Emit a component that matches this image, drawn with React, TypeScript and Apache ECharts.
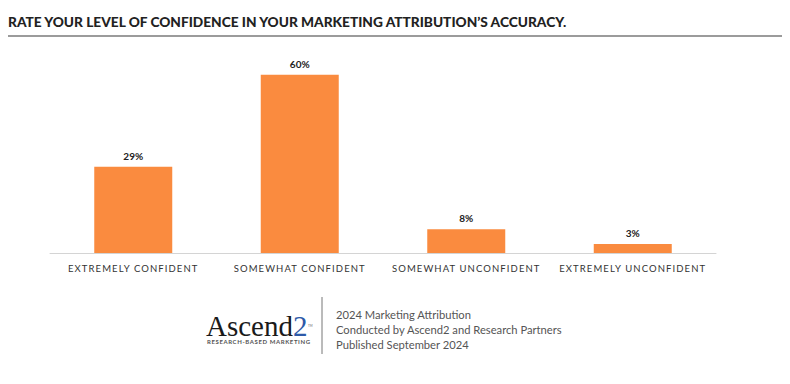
import React, { useEffect, useRef } from "react";
import * as echarts from "echarts";

const categories = [
  "EXTREMELY CONFIDENT",
  "SOMEWHAT CONFIDENT",
  "SOMEWHAT UNCONFIDENT",
  "EXTREMELY UNCONFIDENT",
];
const values = [29, 60, 8, 3];
const titleText = "RATE YOUR LEVEL OF CONFIDENCE IN YOUR MARKETING ATTRIBUTION\u2019S ACCURACY.";
const footerLines = [
  "2024 Marketing Attribution",
  "Conducted by Ascend2 and Research Partners",
  "Published September 2024",
];

export default function App() {
  const ref = useRef<HTMLDivElement>(null);
  useEffect(() => {
    document.body.style.margin = "0";
    const chart = echarts.init(ref.current!, null, { renderer: "svg" });
    chart.setOption({
      animation: false,
      backgroundColor: "#ffffff",
      grid: { left: 50, right: 74, top: 45, bottom: 131 },
      xAxis: {
        type: "category",
        data: categories,
        axisLine: { lineStyle: { color: "#d4d4d4", width: 1 } },
        axisTick: { show: false },
        axisLabel: {
          interval: 0,
          color: "#333333",
          fontFamily: "Lato",
          fontSize: 9.5,
          margin: 10,
        },
      },
      yAxis: {
        type: "value",
        min: 0,
        max: 70,
        show: false,
        splitLine: { show: false },
      },
      series: [
        {
          type: "bar",
          data: values,
          barWidth: 78,
          itemStyle: { color: "#FA8B3F" },
          label: {
            show: true,
            position: "top",
            distance: 6,
            formatter: "{c}%",
            color: "#222222",
            fontFamily: "Lato",
            fontWeight: "bold",
            fontSize: 10,
          },
        },
      ],
      graphic: [
        {
          type: "text",
          left: 8,
          top: 14,
          style: {
            text: titleText,
            fill: "#222222",
            font: "900 13.7px Lato",
          },
        },
        {
          type: "line",
          shape: { x1: 8, y1: 36, x2: 782, y2: 36 },
          style: { stroke: "#7a7a7a", lineWidth: 1.5 },
        },
        {
          type: "text",
          x: 206,
          y: 325.5,
          style: {
            text: "Ascend",
            fill: "#1a1a1a",
            font: "29px 'Liberation Serif'",
            lineHeight: 22,
            verticalAlign: "middle",
          },
        },
        {
          type: "text",
          x: 293,
          y: 325.5,
          style: {
            text: "2",
            fill: "#2d5aa8",
            font: "29px 'Liberation Serif'",
            lineHeight: 22,
            verticalAlign: "middle",
          },
        },
        {
          type: "text",
          x: 308,
          y: 326,
          style: {
            text: "TM",
            fill: "#666666",
            font: "3px Lato",
            verticalAlign: "middle",
          },
        },
        {
          type: "text",
          x: 207,
          y: 341,
          style: {
            text: "RESEARCH-BASED MARKETING",
            fill: "#555555",
            font: "bold 6px Lato",
            verticalAlign: "middle",
          },
        },
        {
          type: "line",
          shape: { x1: 322, y1: 297, x2: 322, y2: 354 },
          style: { stroke: "#777777", lineWidth: 1 },
        },
        ...footerLines.map((t, i) => ({
          type: "text",
          x: 336,
          y: 314 + i * 15.2,
          style: {
            text: t,
            fill: "#555555",
            font: "11.2px Lato",
            verticalAlign: "middle",
          },
        })),
      ],
    });
    const root = chart.getDom();
    root.querySelectorAll("text").forEach((el) => {
      const t = el.textContent || "";
      if (categories.includes(t)) {
        el.setAttribute("letter-spacing", "1.1");
      } else if (t === "RESEARCH-BASED MARKETING") {
        el.setAttribute("letter-spacing", "0.6");
      }
    });
    return () => chart.dispose();
  }, []);
  return <div ref={ref} style={{ width: 790, height: 384 }} />;
}
